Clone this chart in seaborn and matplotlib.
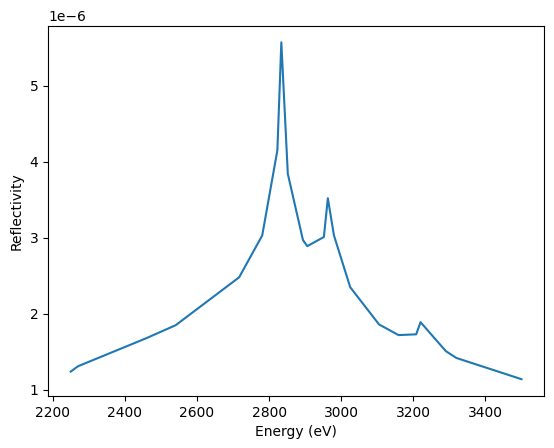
import matplotlib
matplotlib.use("Agg")
import matplotlib.pyplot as plt
import seaborn as sns
import pandas as pd

energy = [2250, 2270, 2460, 2541, 2717, 2781, 2823, 2834, 2852, 2894, 2906,
          2952, 2963, 2980, 3025, 3105, 3159, 3208, 3220, 3290, 3319, 3500]
reflectivity = [1.24, 1.31, 1.68, 1.85, 2.48, 3.03, 4.15, 5.57, 3.84, 2.97, 2.89,
                3.01, 3.52, 3.03, 2.35, 1.86, 1.72, 1.73, 1.89, 1.51, 1.42, 1.14]

df = pd.DataFrame({"Energy": energy,
                   "Reflectivity": [r * 1e-6 for r in reflectivity]})

fig, ax = plt.subplots(figsize=(5.54, 4.48), dpi=100)
fig.subplots_adjust(left=0.087, right=0.982, top=0.943, bottom=0.116)

sns.lineplot(data=df, x="Energy", y="Reflectivity", ax=ax,
             color="#1f77b4", linewidth=1.5, sort=False)
ax.set_xlabel("Energy (eV)")
ax.set_ylabel("Reflectivity")

fig.savefig("out.png", dpi=100)
